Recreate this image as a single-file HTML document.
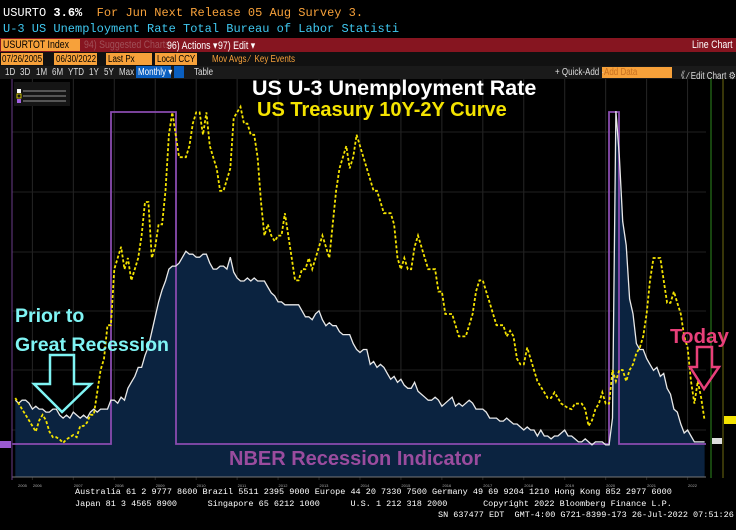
<!DOCTYPE html>
<html><head><meta charset="utf-8"><style>
body{margin:0;background:#000;width:736px;height:530px;overflow:hidden;position:relative;font-family:"Liberation Mono",monospace}
.a{position:absolute;white-space:nowrap}
.n{font-family:"Liberation Sans",sans-serif;font-size:10px;transform-origin:0 0;transform:scaleX(.8)}
.b{position:absolute;background:#f7a13a;height:12px}
</style></head><body>
<div class="a" style="left:3px;top:6px;font-size:12px;color:#fff">USURTO <b>3.6%</b> <span style="color:#f7a13a">&nbsp;For Jun Next Release 05 Aug Survey 3.</span></div>
<div class="a" style="left:3px;top:22px;font-size:12px;color:#3fc8f0">U-3 US Unemployment Rate Total  Bureau of Labor Statisti</div>
<div class="a" style="left:0;top:38px;width:736px;height:14px;background:#861520"></div>
<div class="b" style="left:1px;top:39px;width:79px"></div>
<div class="a n" style="left:3px;top:39px;color:#000;font-size:11px">USURTOT Index</div>
<div class="a n" style="left:84px;top:39px;color:#a05058;font-size:11px">94) Suggested Charts</div>
<div class="a n" style="left:167px;top:39px;color:#fff;font-size:11px">96) Actions ▾</div>
<div class="a n" style="left:218px;top:39px;color:#fff;font-size:11px">97) Edit ▾</div>
<div class="a n" style="left:692px;top:39px;color:#fff;font-size:11px">Line Chart</div>
<div class="a" style="left:0;top:52px;width:736px;height:14px;background:#111"></div>
<div class="b" style="left:1px;top:53px;width:42px"></div>
<div class="b" style="left:54px;top:53px;width:43px"></div>
<div class="b" style="left:106px;top:53px;width:46px"></div>
<div class="b" style="left:155px;top:53px;width:42px"></div>
<div class="a n" style="left:2px;top:54px;color:#000">07/26/2005</div>
<div class="a n" style="left:56px;top:54px;color:#000">06/30/2022</div>
<div class="a n" style="left:108px;top:54px;color:#000">Last Px</div>
<div class="a n" style="left:157px;top:54px;color:#000">Local CCY</div>
<div class="a n" style="left:212px;top:54px;color:#f7a13a">Mov Avgs ⁄ &nbsp;Key Events</div>
<div class="a" style="left:0;top:66px;width:736px;height:13px;background:#1a1a1a"></div>
<div class="a" style="left:136px;top:66px;width:35px;height:12px;background:#0a5fc0"></div>
<div class="a" style="left:174px;top:66px;width:10px;height:12px;background:#0a5fc0"></div>
<div class="a" style="left:602px;top:67px;width:70px;height:11px;background:#f7a13a"></div>
<div class="a n" style="left:5px;top:67px;color:#ddd">1D</div><div class="a n" style="left:20px;top:67px;color:#ddd">3D</div><div class="a n" style="left:36px;top:67px;color:#ddd">1M</div><div class="a n" style="left:52px;top:67px;color:#ddd">6M</div><div class="a n" style="left:68px;top:67px;color:#ddd">YTD</div><div class="a n" style="left:89px;top:67px;color:#ddd">1Y</div><div class="a n" style="left:104px;top:67px;color:#ddd">5Y</div><div class="a n" style="left:119px;top:67px;color:#ddd">Max</div><div class="a n" style="left:138px;top:67px;color:#fff">Monthly ▾</div><div class="a n" style="left:194px;top:67px;color:#ddd">Table</div>
<div class="a n" style="left:555px;top:67px;color:#ddd">+ Quick-Add ·</div>
<div class="a n" style="left:604px;top:67px;color:#c87020">Add Data</div>
<div class="a n" style="left:677px;top:67px;color:#ddd">《 ⁄ Edit Chart ⚙</div>
<svg class="a" style="left:0;top:0" width="736" height="530" id="s"></svg>
<div class="a" style="left:252px;top:76px;font-family:'Liberation Sans',sans-serif;font-weight:bold;font-size:21.5px;color:#fff">US U-3 Unemployment Rate</div>
<div class="a" style="left:257px;top:99px;font-family:'Liberation Sans',sans-serif;font-weight:bold;font-size:20px;color:#f4e300">US Treasury 10Y-2Y Curve</div>
<div class="a" style="left:15px;top:305px;font-family:'Liberation Sans',sans-serif;font-weight:bold;font-size:19.5px;color:#7ff4f4">Prior to</div>
<div class="a" style="left:15px;top:334px;font-family:'Liberation Sans',sans-serif;font-weight:bold;font-size:19.5px;color:#7ff4f4">Great Recession</div>
<div class="a" style="left:670px;top:325px;font-family:'Liberation Sans',sans-serif;font-weight:bold;font-size:20.5px;color:#e8407a">Today</div>
<div class="a" style="left:229px;top:448px;font-family:'Liberation Sans',sans-serif;font-weight:bold;font-size:20px;color:#9a4c9e">NBER Recession Indicator</div>
<div class="a" style="left:75px;top:486px;font-size:8.5px;color:#fff;line-height:12px">Australia 61 2 9777 8600 Brazil 5511 2395 9000 Europe 44 20 7330 7500 Germany 49 69 9204 1210 Hong Kong 852 2977 6000<br>Japan 81 3 4565 8900 &nbsp;&nbsp;&nbsp;&nbsp;&nbsp;Singapore 65 6212 1000 &nbsp;&nbsp;&nbsp;&nbsp;&nbsp;U.S. 1 212 318 2000 &nbsp;&nbsp;&nbsp;&nbsp;&nbsp;&nbsp;Copyright 2022 Bloomberg Finance L.P.</div>
<div class="a" style="left:438px;top:510px;font-size:8.5px;color:#fff">SN 637477 EDT &nbsp;GMT-4:00 G721-8399-173 26-Jul-2022 07:51:26</div>
<script>
var U=[5.0,4.9,5.0,5.0,4.9,
4.7,4.8,4.7,4.7,4.6,4.6,4.7,4.7,4.5,4.4,4.5,4.4,
4.6,4.5,4.4,4.5,4.4,4.6,4.7,4.6,4.7,4.7,4.7,5.0,
5.0,4.9,5.1,5.0,5.4,5.6,5.8,6.1,6.1,6.5,6.8,7.3,
7.8,8.3,8.7,9.0,9.4,9.5,9.5,9.6,9.8,10.0,9.9,9.9,
9.8,9.8,9.9,9.9,9.6,9.4,9.4,9.5,9.5,9.4,9.8,9.3,
9.1,9.0,9.0,9.1,9.0,9.1,9.0,9.0,9.0,8.8,8.6,8.5,
8.3,8.3,8.2,8.2,8.2,8.2,8.2,8.0,7.8,7.8,7.7,7.9,
8.0,7.7,7.5,7.6,7.5,7.5,7.3,7.2,7.2,7.2,6.9,6.7,
6.6,6.7,6.7,6.2,6.3,6.1,6.2,6.1,5.9,5.7,5.8,5.6,
5.7,5.5,5.4,5.4,5.6,5.3,5.2,5.1,5.0,5.0,5.1,5.0,
4.8,4.9,5.0,5.1,4.8,4.9,4.8,4.9,5.0,4.9,4.7,4.7,
4.7,4.6,4.4,4.4,4.4,4.3,4.3,4.4,4.3,4.2,4.2,4.1,
4.0,4.1,4.0,4.0,3.8,4.0,3.8,3.8,3.7,3.8,3.8,3.9,
4.0,3.8,3.8,3.7,3.6,3.6,3.7,3.6,3.5,3.6,3.6,3.6,
3.5,3.5,4.4,14.7,13.2,11.0,10.2,8.4,7.9,6.9,6.7,6.7,
6.4,6.2,6.0,6.1,5.8,5.9,5.4,5.2,4.7,4.6,4.2,3.9,
4.0,3.8,3.6,3.6,3.6,3.6];
var S=[0.25,0.2,0.15,0.1,0.05,
0.0,-0.05,0.05,0.1,0.05,-0.05,-0.1,-0.1,-0.12,-0.15,-0.12,-0.1,
-0.08,-0.1,0.0,0.0,0.03,0.1,0.1,0.3,0.5,0.6,0.9,0.9,
1.4,1.5,1.6,1.4,1.5,1.3,1.4,1.5,1.7,2.0,2.0,1.5,
1.6,1.8,1.8,2.1,2.6,2.8,2.6,2.4,2.4,2.4,2.5,2.7,
2.8,2.8,2.6,2.8,2.5,2.4,2.3,2.1,2.1,2.2,2.3,2.75,
2.8,2.85,2.7,2.7,2.6,2.6,2.4,2.0,1.7,1.8,1.7,1.65,
1.7,1.7,1.9,1.7,1.5,1.3,1.3,1.4,1.4,1.5,1.4,1.5,
1.6,1.7,1.6,1.5,1.8,2.1,2.3,2.4,2.5,2.3,2.4,2.6,
2.5,2.4,2.3,2.2,2.1,2.1,2.0,1.9,1.9,1.9,1.8,1.5,
1.4,1.5,1.4,1.4,1.6,1.7,1.6,1.5,1.4,1.4,1.4,1.2,
1.2,1.0,1.0,1.0,0.9,0.8,0.8,0.8,0.9,1.0,1.2,1.3,
1.3,1.2,1.1,1.0,0.9,0.9,0.9,0.8,0.85,0.8,0.6,0.55,
0.55,0.7,0.6,0.5,0.4,0.35,0.3,0.25,0.25,0.3,0.25,0.2,
0.18,0.16,0.15,0.2,0.2,0.2,0.15,0.0,0.05,0.15,0.2,0.3,
0.2,0.2,0.5,0.4,0.5,0.5,0.4,0.5,0.55,0.65,0.7,0.8,
1.0,1.3,1.5,1.5,1.5,1.3,1.1,1.1,1.2,1.1,1.0,0.8,
0.7,0.4,0.2,0.4,0.25,0.05];
function X(i){return 111+(2005+(7+i)/12-2007.92)*40.95}
function YU(u){return 430-(u-4)*29.8}
function YS(s){return 426-112*s}
var h='';
h+='<rect x="12" y="79" width="694" height="398" fill="#000"/>';
for(var y=2006;y<=2022;y++){var gx=111+(y-2007.92)*40.95;h+='<line x1="'+gx+'" y1="79" x2="'+gx+'" y2="480" stroke="#262626" stroke-width="1"/>';}
[132,192,252,311,370,430].forEach(function(g){h+='<line x1="12" y1="'+g+'" x2="706" y2="'+g+'" stroke="#202020"/>';});
var p='M'+X(0)+',477',l='';
for(var i=0;i<U.length;i++){p+=' L'+X(i).toFixed(1)+','+YU(U[i]).toFixed(1);l+=(i?' L':'M')+X(i).toFixed(1)+','+YU(U[i]).toFixed(1);}
p+=' L'+X(U.length-1)+',477Z';
h+='<path d="'+p+'" fill="#0b2340"/>';
h+='<line x1="12" y1="477" x2="706" y2="477" stroke="#777"/>';
h+='<path d="M12,444 H111 V112 H176 V444 H609 V112 H619 V444 H706" fill="none" stroke="#8a4bb0" stroke-width="1.8"/>';
h+='<path d="'+l+'" fill="none" stroke="#e8e8e8" stroke-width="1.3"/>';
var sl='';for(i=0;i<S.length;i++)sl+=(i?' L':'M')+X(i).toFixed(1)+','+YS(S[i]).toFixed(1);
h+='<path d="'+sl+'" fill="none" stroke="#f4e300" stroke-width="1.8" stroke-dasharray="3,2"/>';
h+='<line x1="12" y1="79" x2="12" y2="480" stroke="#6a3c8a"/>';
h+='<line x1="711" y1="79" x2="711" y2="478" stroke="#2e8a1e"/><line x1="723" y1="79" x2="723" y2="478" stroke="#6e6a10"/>';
h+='<rect x="0" y="441" width="11" height="7" fill="#9a5ad0"/>';
h+='<rect x="712" y="438" width="10" height="6" fill="#ddd"/><rect x="724" y="416" width="12" height="8" fill="#f4e300"/>';
h+='<rect x="14" y="82" width="56" height="24" fill="#151515"/><rect x="17" y="89" width="4" height="4" fill="#fff"/><rect x="17" y="94" width="4" height="4" fill="none" stroke="#f4e300" stroke-width=".8"/><rect x="17" y="99" width="4" height="4" fill="#a060e0"/>';
h+='<line x1="23" y1="91" x2="66" y2="91" stroke="#555" stroke-width="2"/><line x1="23" y1="96" x2="66" y2="96" stroke="#555" stroke-width="2"/><line x1="23" y1="101" x2="66" y2="101" stroke="#555" stroke-width="2"/>';
var yrs=['2005','2006','2007','2008','2009','2010','2011','2012','2013','2014','2015','2016','2017','2018','2019','2020','2021','2022'];
yrs.forEach(function(t,k){var tx=k==0?18:111+(k+2005-2007.92+0.5)*40.95-20;h+='<text x="'+tx+'" y="487" fill="#aaa" font-size="4" font-family="Liberation Sans">'+t+'</text>';});
h+='<path d="M50,355 H74 V384 H91 L62,412 L34,384 H50 Z" fill="none" stroke="#7ff4f4" stroke-width="2.5"/>';
h+='<path d="M697,347 H712 V367 H719 L704,389 L690,367 H697 Z" fill="none" stroke="#e8407a" stroke-width="2.5"/>';
document.getElementById('s').innerHTML=h;
</script>
</body></html>
